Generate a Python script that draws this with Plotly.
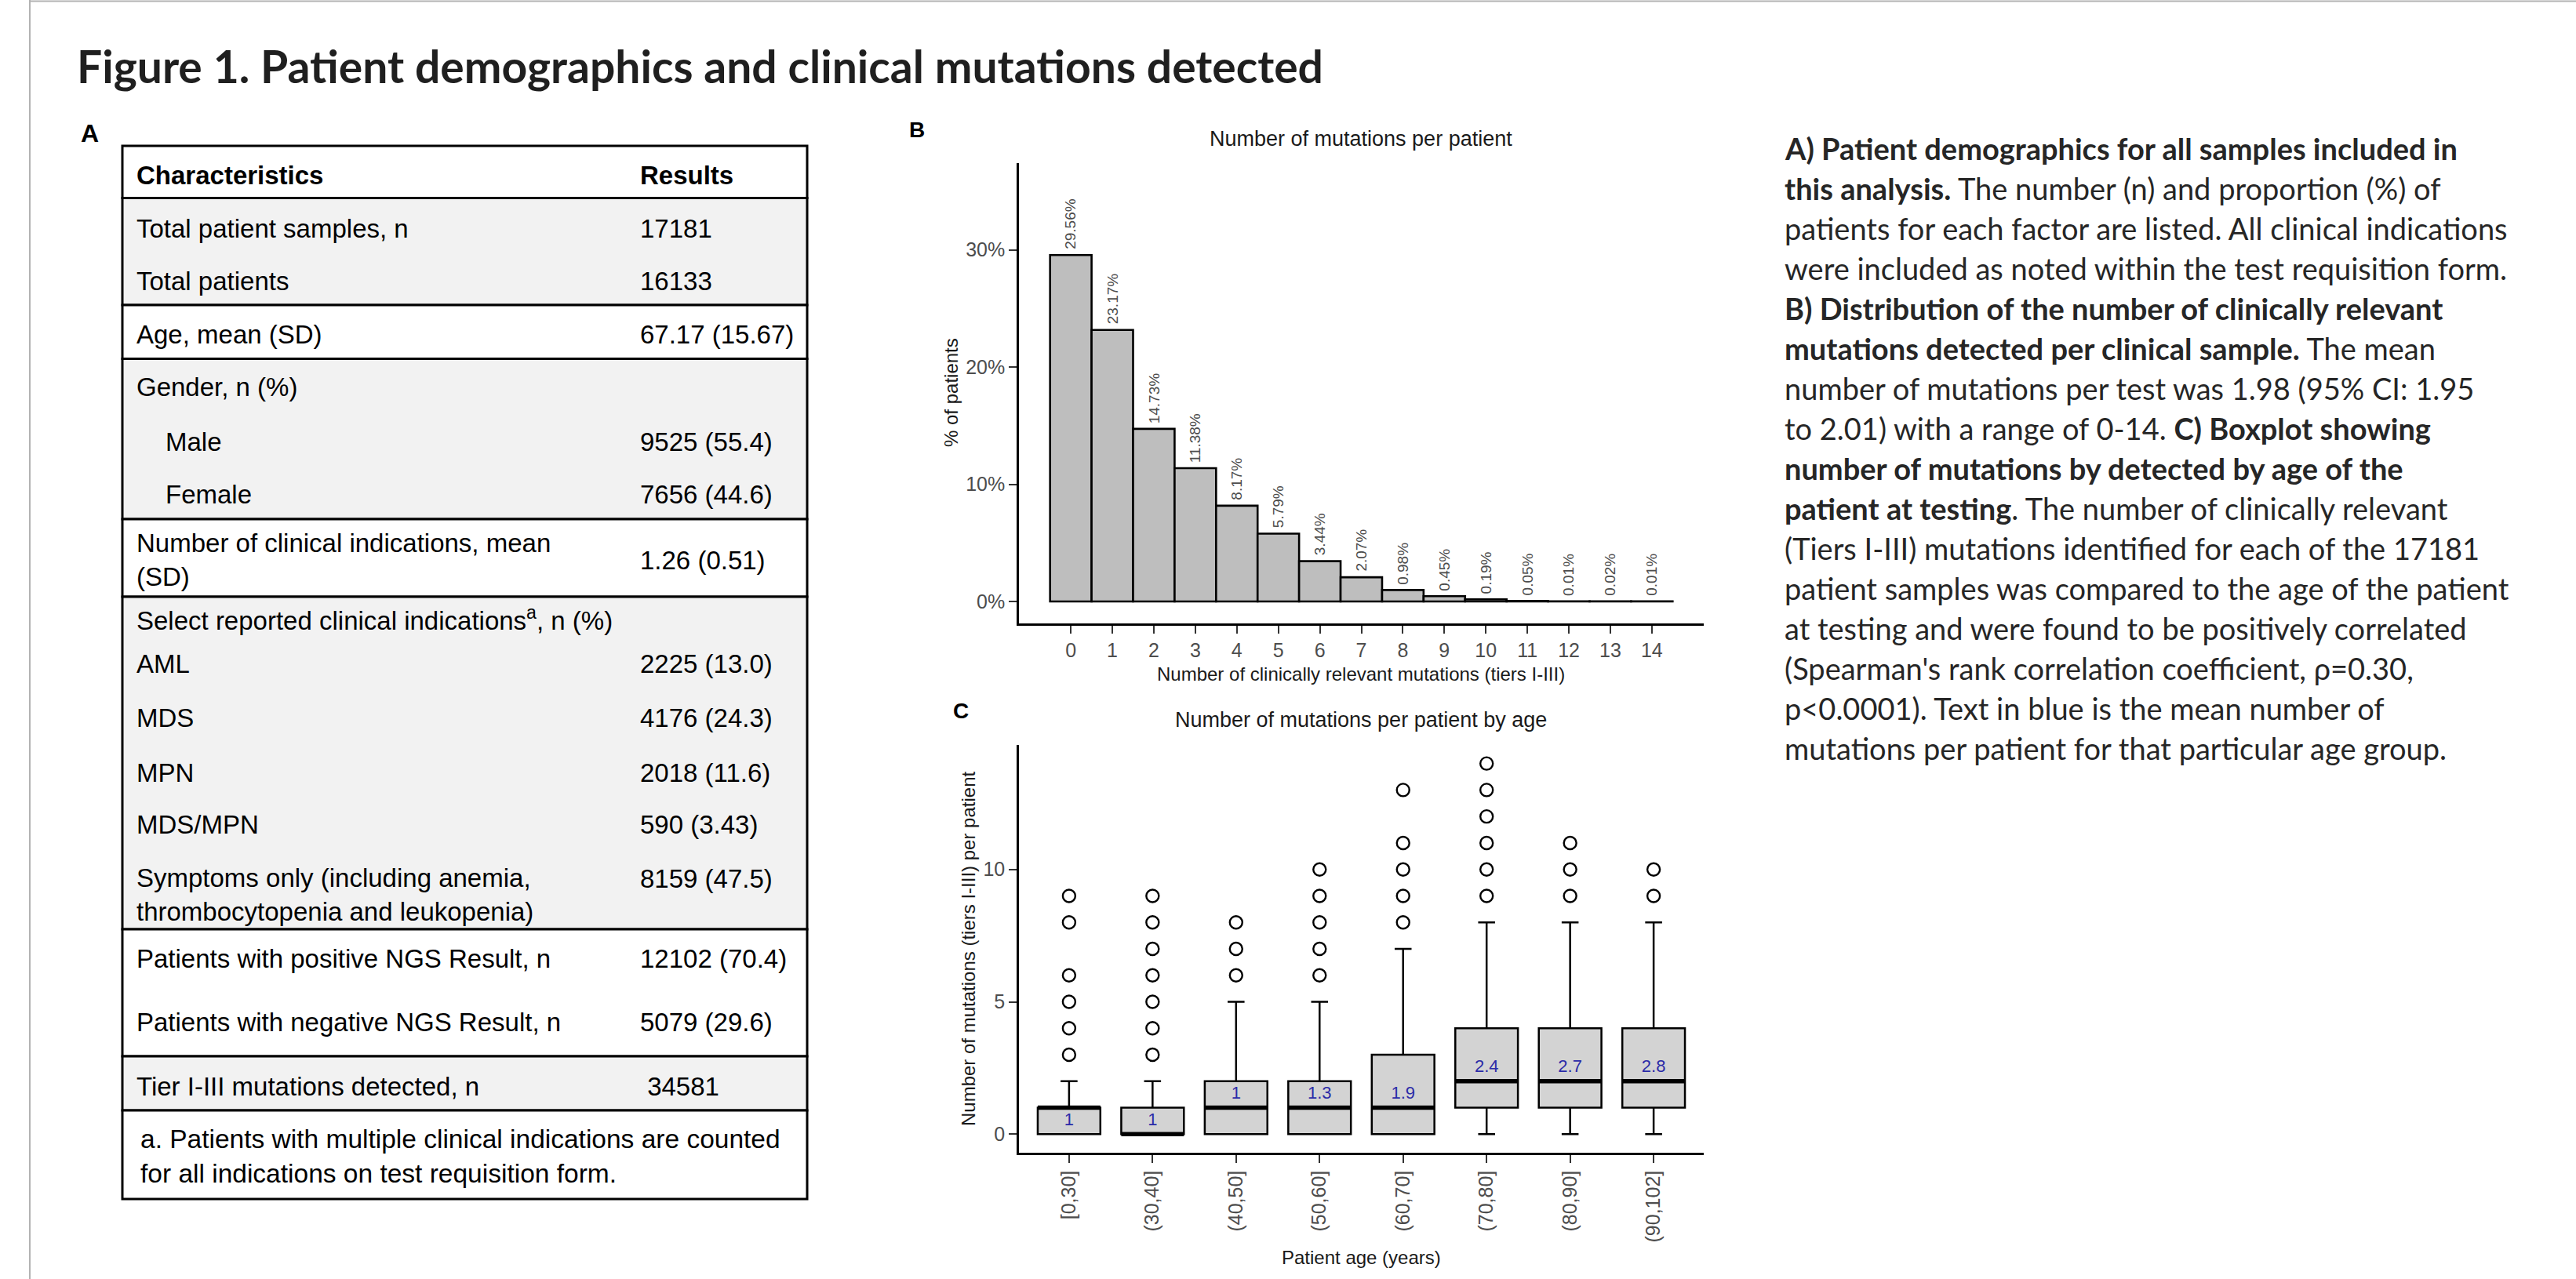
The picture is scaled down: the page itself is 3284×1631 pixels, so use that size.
import plotly.graph_objects as go

W, H = 3284, 1631

# ---------------- data ----------------
title_text = "Figure 1. Patient demographics and clinical mutations detected"

table_header = ["Characteristics", "Results"]
table_labels = [
    "Total patient samples, n",
    "Total patients",
    "Age, mean (SD)",
    "Gender, n (%)",
    "Male",
    "Female",
    "Number of clinical indications, mean<br>(SD)",
    "Select reported clinical indications<sup>a</sup>, n (%)",
    "AML",
    "MDS",
    "MPN",
    "MDS/MPN",
    "Symptoms only (including anemia,<br>thrombocytopenia and leukopenia)",
    "Patients with positive NGS Result, n",
    "Patients with negative NGS Result, n",
    "Tier I-III mutations detected, n",
]
table_results = [
    "17181", "16133", "67.17 (15.67)", "", "9525 (55.4)", "7656 (44.6)",
    "1.26 (0.51)", "", "2225 (13.0)", "4176 (24.3)", "2018 (11.6)",
    "590 (3.43)", "8159 (47.5)", "12102 (70.4)", "5079 (29.6)", " 34581",
]
table_footnote = "a. Patients with multiple clinical indications are counted<br>for all indications on test requisition form."

mut_counts = list(range(15))
mut_pct = [29.56, 23.17, 14.73, 11.38, 8.17, 5.79, 3.44, 2.07, 0.98, 0.45,
           0.19, 0.05, 0.01, 0.02, 0.01]

age_groups = ["[0,30]", "(30,40]", "(40,50]", "(50,60]", "(60,70]",
              "(70,80]", "(80,90]", "(90,102]"]
box_q1 = [0, 0, 0, 0, 0, 1, 1, 1]
box_median = [1, 0, 1, 1, 1, 2, 2, 2]
box_q3 = [1, 1, 2, 2, 3, 4, 4, 4]
box_low = [0, 0, 0, 0, 0, 0, 0, 0]
box_high = [2, 2, 5, 5, 7, 8, 8, 8]
box_outliers = [
    [3, 4, 5, 6, 8, 9],
    [3, 4, 5, 6, 7, 8, 9],
    [6, 7, 8],
    [6, 7, 8, 9, 10],
    [8, 9, 10, 11, 13],
    [9, 10, 11, 12, 13, 14],
    [9, 10, 11],
    [9, 10],
]
box_means = ["1", "1", "1", "1.3", "1.9", "2.4", "2.7", "2.8"]
mean_label_y = [0.5, 0.5, 1.5, 1.5, 1.5, 2.5, 2.5, 2.5]

caption_lines = [
    "<b>A) Patient demographics for all samples included in</b>",
    "<b>this analysis.</b> The number (n) and proportion (%) of",
    "patients for each factor are listed. All clinical indications",
    "were included as noted within the test requisition form.",
    "<b>B) Distribution of the number of clinically relevant</b>",
    "<b>mutations detected per clinical sample.</b> The mean",
    "number of mutations per test was 1.98 (95% CI: 1.95",
    "to 2.01) with a range of 0-14. <b>C) Boxplot showing</b>",
    "<b>number of mutations by detected by age of the</b>",
    "<b>patient at testing</b>. The number of clinically relevant",
    "(Tiers I-III) mutations identified for each of the 17181",
    "patient samples was compared to the age of the patient",
    "at testing and were found to be positively correlated",
    "(Spearman's rank correlation coefficient, ρ=0.30,",
    "p&lt;0.0001). Text in blue is the mean number of",
    "mutations per patient for that particular age group.",
]

# ---------------- helpers ----------------
def PX(x):
    return x / W

def PY(y):
    return 1 - y / H

ARIAL = "Liberation Sans, Arial, sans-serif"
CAL = "Lato, Carlito, Calibri, sans-serif"

fig = go.Figure()
shapes = []
annotations = []

# outer frame lines
shapes.append(dict(type="line", xref="paper", yref="paper", x0=PX(38), x1=PX(W), y0=PY(1.5), y1=PY(1.5),
                   line=dict(color="#b3b3b3", width=2)))
shapes.append(dict(type="line", xref="paper", yref="paper", x0=PX(38), x1=PX(38), y0=PY(0), y1=PY(H),
                   line=dict(color="#b3b3b3", width=2)))

# title
annotations.append(dict(text="<b>" + title_text + "</b>", x=PX(96), y=PY(84), xref="paper", yref="paper",
                        xanchor="left", yanchor="middle", showarrow=False,
                        font=dict(family=CAL, size=57, color="#1f1f1f")))

# ---------------- Table (panel A) ----------------
annotations.append(dict(text="<b>A</b>", x=PX(114), y=PY(170), xref="paper", yref="paper",
                        xanchor="center", yanchor="middle", showarrow=False,
                        font=dict(family=ARIAL, size=32, color="black")))
tab_left, tab_right = 156, 1029
section_lines = [186, 252.5, 389, 457.6, 662, 761, 1185, 1347, 1416, 1529]
for i in range(len(section_lines) - 1):
    shaded = i % 2 == 1
    shapes.append(dict(type="rect", xref="paper", yref="paper", layer="below",
                       x0=PX(tab_left), x1=PX(tab_right),
                       y0=PY(section_lines[i]), y1=PY(section_lines[i + 1]),
                       fillcolor="#f2f2f2" if shaded else "white",
                       line=dict(color="black", width=3)))

col1_x, col2_x, indent_x = 172, 814, 209
row_y = [291, 359, 427, 493, 563, 630, 714.5, 789, 847, 916, 985, 1051, 1140.5, 1222, 1303, 1385]
res_y = [291, 359, 427, 493, 563, 630, 714.5, 789, 847, 916, 985, 1051, 1120, 1222, 1303, 1385]
indented = {4, 5}
tfont = dict(family=ARIAL, size=33, color="black")
annotations.append(dict(text="<b>" + table_header[0] + "</b>", x=PX(col1_x), y=PY(223), xref="paper", yref="paper",
                        xanchor="left", yanchor="middle", showarrow=False, font=tfont))
annotations.append(dict(text="<b>" + table_header[1] + "</b>", x=PX(col2_x), y=PY(223), xref="paper", yref="paper",
                        xanchor="left", yanchor="middle", showarrow=False, font=tfont))
for i, (lab, res) in enumerate(zip(table_labels, table_results)):
    annotations.append(dict(text=lab, x=PX(indent_x if i in indented else col1_x), y=PY(row_y[i]),
                            xref="paper", yref="paper", xanchor="left", yanchor="middle", align="left",
                            showarrow=False, font=tfont))
    if res:
        annotations.append(dict(text=res, x=PX(col2_x), y=PY(res_y[i]), xref="paper", yref="paper",
                                xanchor="left", yanchor="middle", showarrow=False, font=tfont))
annotations.append(dict(text=table_footnote, x=PX(177), y=PY(1474), xref="paper", yref="paper",
                        xanchor="left", yanchor="middle", align="left", showarrow=False,
                        font=dict(family=ARIAL, size=33.5, color="black")))

# ---------------- Panel B ----------------
axB_x = [PX(1299), PX(2172)]
axB_y = [PY(795), PY(208)]
axC_y = [PY(1470), PY(950)]

fig.add_trace(go.Bar(
    x=mut_counts, y=mut_pct, width=1,
    marker=dict(color="#bebebe", line=dict(color="black", width=2.6)),
    hoverinfo="skip", xaxis="x", yaxis="y"))

for c, v in zip(mut_counts, mut_pct):
    annotations.append(dict(text=f"{v:.2f}%", x=c, y=v, xref="x", yref="y",
                            xanchor="center", yanchor="bottom", yshift=5, textangle=-90,
                            showarrow=False, font=dict(family=ARIAL, size=19, color="#4d4d4d")))

axis_common = dict(showgrid=False, zeroline=False, showline=True, linecolor="black", linewidth=2.5,
                   ticks="outside", ticklen=10, tickwidth=2, tickcolor="#333333",
                   tickfont=dict(family=ARIAL, size=25, color="#4d4d4d"))

annotations.append(dict(text="<b>B</b>", x=PX(1169), y=PY(165), xref="paper", yref="paper",
                        xanchor="center", yanchor="middle", showarrow=False,
                        font=dict(family=ARIAL, size=28, color="black")))
annotations.append(dict(text="Number of mutations per patient", x=PX(1735), y=PY(177), xref="paper", yref="paper",
                        xanchor="center", yanchor="middle", showarrow=False,
                        font=dict(family=ARIAL, size=27, color="#1a1a1a")))
annotations.append(dict(text="Number of clinically relevant mutations (tiers I-III)", x=PX(1735), y=PY(859),
                        xref="paper", yref="paper", xanchor="center", yanchor="middle", showarrow=False,
                        font=dict(family=ARIAL, size=24, color="#1a1a1a")))
annotations.append(dict(text="% of patients", x=PX(1213), y=PY(501), xref="paper", yref="paper",
                        xanchor="center", yanchor="middle", textangle=-90, showarrow=False,
                        font=dict(family=ARIAL, size=24, color="#1a1a1a")))

# ---------------- Panel C ----------------
pos = list(range(len(age_groups)))
fig.add_trace(go.Box(
    x=pos, q1=box_q1, median=box_median, q3=box_q3, lowerfence=box_low, upperfence=box_high,
    width=0.75, whiskerwidth=0.27, fillcolor="#d3d3d3",
    line=dict(color="black", width=2.5), boxpoints=False, hoverinfo="skip",
    xaxis="x2", yaxis="y2"))

mx, my = [], []
for i, m in enumerate(box_median):
    mx += [i - 0.375, i + 0.375, None]
    my += [m, m, None]
fig.add_trace(go.Scatter(x=mx, y=my, mode="lines", line=dict(color="black", width=5.5),
                         hoverinfo="skip", xaxis="x2", yaxis="y2"))

ox, oy = [], []
for i, outs in enumerate(box_outliers):
    for v in outs:
        ox.append(i)
        oy.append(v)
fig.add_trace(go.Scatter(x=ox, y=oy, mode="markers",
                         marker=dict(symbol="circle-open", size=16, color="black", line=dict(width=2.4)),
                         hoverinfo="skip", cliponaxis=False, xaxis="x2", yaxis="y2"))

fig.add_trace(go.Scatter(x=pos, y=mean_label_y, mode="text", text=box_means,
                         textfont=dict(family=ARIAL, size=22, color="#2b2ba8"),
                         hoverinfo="skip", xaxis="x2", yaxis="y2"))

annotations.append(dict(text="<b>C</b>", x=PX(1225), y=PY(906), xref="paper", yref="paper",
                        xanchor="center", yanchor="middle", showarrow=False,
                        font=dict(family=ARIAL, size=28, color="black")))
annotations.append(dict(text="Number of mutations per patient by age", x=PX(1735), y=PY(918), xref="paper",
                        yref="paper", xanchor="center", yanchor="middle", showarrow=False,
                        font=dict(family=ARIAL, size=27, color="#1a1a1a")))
annotations.append(dict(text="Patient age (years)", x=PX(1735), y=PY(1603), xref="paper", yref="paper",
                        xanchor="center", yanchor="middle", showarrow=False,
                        font=dict(family=ARIAL, size=24, color="#1a1a1a")))
annotations.append(dict(text="Number of mutations (tiers I-III) per patient", x=PX(1234), y=PY(1210),
                        xref="paper", yref="paper", xanchor="center", yanchor="middle", textangle=-90,
                        showarrow=False, font=dict(family=ARIAL, size=24, color="#1a1a1a")))

# ---------------- caption text ----------------
cap_x, cap_y0, cap_dy = 2273, 189, 51.03
for i, line in enumerate(caption_lines):
    annotations.append(dict(text=line, x=PX(cap_x), y=PY(cap_y0 + i * cap_dy), xref="paper", yref="paper",
                            xanchor="left", yanchor="middle", showarrow=False,
                            font=dict(family=CAL, size=38, color="#262626")))

fig.update_layout(
    width=W, height=H, margin=dict(l=0, r=0, t=0, b=0),
    paper_bgcolor="white", plot_bgcolor="white", showlegend=False,
    xaxis=dict(domain=axB_x, range=[-1.25, 15.25], tickvals=mut_counts, anchor="y", **axis_common),
    yaxis=dict(domain=axB_y, range=[-1.87, 37.4], tickvals=[0, 10, 20, 30],
               ticktext=["0%", "10%", "20%", "30%"], anchor="x", **axis_common),
    xaxis2=dict(domain=axB_x, range=[-0.6, 7.6], tickvals=pos, ticktext=age_groups, tickangle=-90,
                anchor="y2", **axis_common),
    yaxis2=dict(domain=axC_y, range=[-0.7, 14.7], tickvals=[0, 5, 10], anchor="x2", **axis_common),
    shapes=shapes, annotations=annotations,
)

fig.write_html("out.html")
